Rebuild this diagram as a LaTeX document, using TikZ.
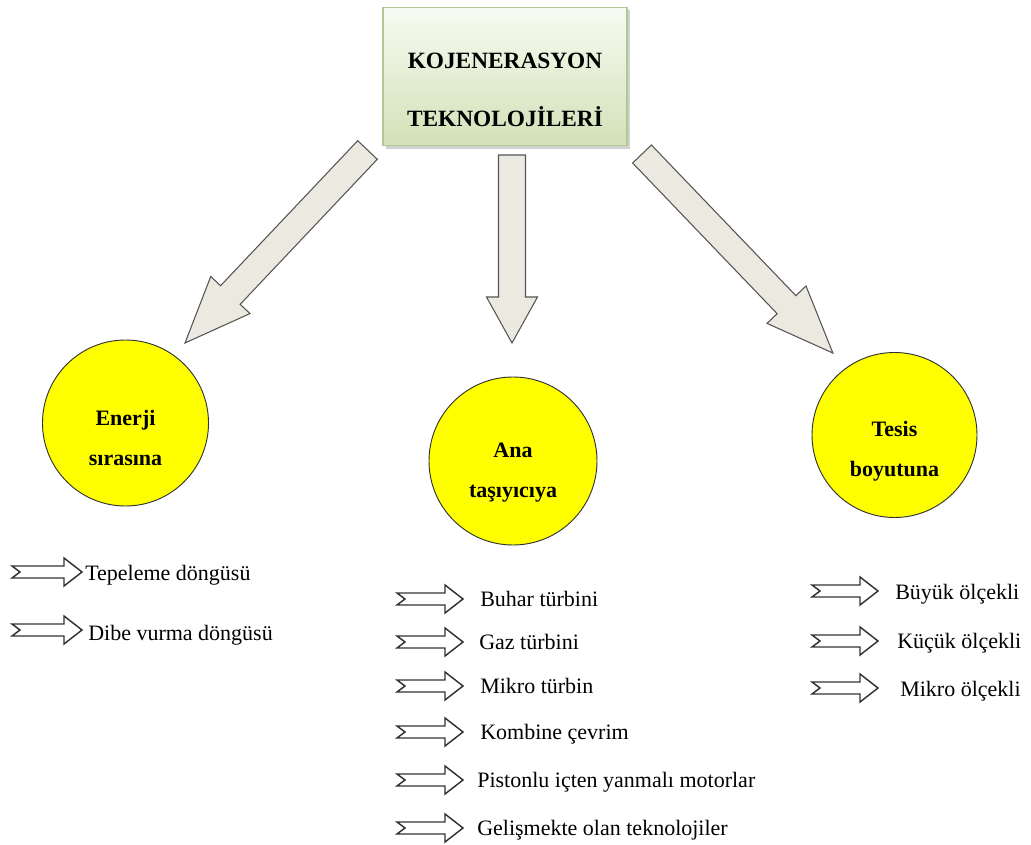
\documentclass[tikz,border=0pt]{standalone}
\usepackage{fontspec}
\setmainfont{Liberation Serif}
\usetikzlibrary{calc,shadows}

\definecolor{arrowfill}{HTML}{ECEAE0}
\definecolor{arrowline}{HTML}{555555}
\definecolor{boxtop}{HTML}{F8FBF2}
\definecolor{boxbottom}{HTML}{D2E1B8}
\definecolor{boxline}{HTML}{B3C796}
\definecolor{discfill}{HTML}{FFFF00}

\tikzset{
  blockarrow/.style={fill=arrowfill, draw=arrowline, line width=0.8pt, line join=miter},
  titlebox/.style={rectangle, draw=boxline, line width=0.8pt,
    top color=boxtop, bottom color=boxbottom,
    minimum width=183pt, minimum height=104pt, inner sep=0pt,
    drop shadow={shadow xshift=2.5pt, shadow yshift=-2.5pt, fill=black!35}},
  titletext/.style={font=\fontsize{17.5}{43.5}\selectfont\bfseries, align=center, inner sep=0pt},
  disc/.style={circle, draw=black!80, line width=0.7pt, fill=discfill,
    minimum size=124.5pt, inner sep=0pt},
  disctext/.style={font=\fontsize{16.5}{30}\selectfont\bfseries, align=center, inner sep=0pt},
  itemtext/.style={font=\fontsize{16.5}{20}\selectfont, anchor=base west, inner sep=0pt},
  itemarrow/.style={draw=black!80, line width=1.1pt, fill=white, line join=miter},
}

% block arrow: tail centre (#1,#2), direction #3, length #4, shaft width #5, head width #6, head length #7
\newcommand\blockarrowat[7]{%
  \begin{scope}[shift={(#1,#2)}, rotate=#3]
    \draw[blockarrow] (0,{-#5/2}) -- ({#4-#7},{-#5/2}) -- ({#4-#7},{-#6/2}) -- (#4,0)
      -- ({#4-#7},{#6/2}) -- ({#4-#7},{#5/2}) -- (0,{#5/2}) -- cycle;
  \end{scope}}

% small notched list arrow: left end x #1, centre y #2, length #3
\newcommand\listarrow[3]{%
  \draw[itemarrow] (#1,{#2+6}) -- ({#1+#3-18},{#2+6}) -- ({#1+#3-18},{#2+14}) -- ({#1+#3},#2)
    -- ({#1+#3-18},{#2-14}) -- ({#1+#3-18},{#2-6}) -- (#1,{#2-6}) -- ({#1+8},#2) -- cycle;}

\begin{document}
\begin{tikzpicture}[x=0.75pt, y=0.75pt]
  \useasboundingbox (0,0) rectangle (1031,844);

  % heading box
  \node[titlebox] (top) at (505,767.5) {};
  \node[titletext] (topT) at ($(top)+(0,-13)$) {KOJENERASYON\\TEKNOLOJİLERİ};

  % three block arrows
  \blockarrowat{367.5}{694}{226.6}{265.6}{27}{54}{66}
  \blockarrowat{512}{689}{-90}{188}{27}{51}{46}
  \blockarrowat{642}{690}{-46.2}{275.8}{26}{54}{67}

  % category discs
  \node[disc, minimum size=124.5pt] (energy) at (125.5,421) {};
  \node[disc, minimum size=126pt] (carrier) at (513,383) {};
  \node[disc, minimum size=123.75pt] (size) at (894.5,409) {};
  \node[disctext] (energyT) at ($(energy)+(0,-15)$) {Enerji\\sırasına};
  \node[disctext] (carrierT) at ($(carrier)+(0,-12)$) {Ana\\taşıyıcıya};
  \node[disctext] (sizeT) at ($(size)+(0,-16)$) {Tesis\\boyutuna};

  % energy order list
  \listarrow{12}{272}{70}
  \node[itemtext] (e1) at (85,264) {Tepeleme döngüsü};
  \listarrow{12}{214}{70}
  \node[itemtext] (e2) at (88,204) {Dibe vurma döngüsü};

  % main carrier list
  \listarrow{397}{245}{66}
  \node[itemtext] (c1) at (480,238) {Buhar türbini};
  \listarrow{397}{202}{66}
  \node[itemtext] (c2) at (479,195) {Gaz türbini};
  \listarrow{397}{158}{66}
  \node[itemtext] (c3) at (480,151) {Mikro türbin};
  \listarrow{397}{112}{66}
  \node[itemtext] (c4) at (480,105) {Kombine çevrim};
  \listarrow{397}{64}{66}
  \node[itemtext] (c5) at (477,57) {Pistonlu içten yanmalı motorlar};
  \listarrow{397}{16}{66}
  \node[itemtext] (c6) at (477,9) {Gelişmekte olan teknolojiler};

  % plant size list
  \listarrow{812}{253}{66}
  \node[itemtext] (s1) at (895,245) {Büyük ölçekli};
  \listarrow{812}{203}{66}
  \node[itemtext] (s2) at (897,196) {Küçük ölçekli};
  \listarrow{812}{156}{66}
  \node[itemtext] (s3) at (900,148) {Mikro ölçekli};
\end{tikzpicture}
\end{document}
